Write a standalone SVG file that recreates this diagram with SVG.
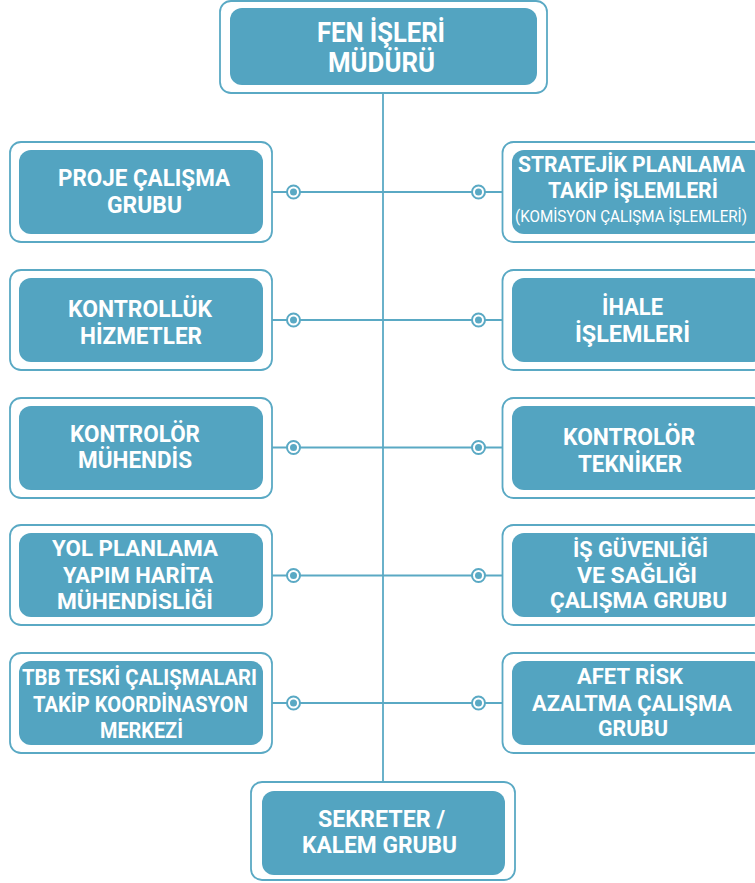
<svg xmlns="http://www.w3.org/2000/svg" width="755" height="883" viewBox="0 0 755 883">
<style>
.outer{fill:#ffffff;stroke:#5aa9c4;stroke-width:1.8}
.inner{fill:#53a4c1}
.ln{stroke:#5aa9c4;stroke-width:1.8;fill:none}
.dot{fill:#ffffff;stroke:#5aa9c4;stroke-width:2}
.dc{fill:#5aa9c4}
text{font-family:Roboto,"Liberation Sans",sans-serif;font-weight:700;fill:#ffffff;text-anchor:middle}
.t{font-size:27px}
.m{font-size:24.5px}
.s{font-size:22px}
.p{font-size:17px;font-weight:400}
</style>
<rect width="755" height="883" fill="#ffffff"/>
<g id="connectors">
<line class="ln" x1="383" y1="93" x2="383" y2="782"/>
<line class="ln" x1="272" y1="192" x2="502" y2="192"/>
<line class="ln" x1="272" y1="320" x2="502" y2="320"/>
<line class="ln" x1="272" y1="447.5" x2="502" y2="447.5"/>
<line class="ln" x1="272" y1="575.5" x2="502" y2="575.5"/>
<line class="ln" x1="272" y1="703" x2="502" y2="703"/>
<g id="dots">
<circle class="dot" cx="293.5" cy="192" r="6.5"/><circle class="dc" cx="293.5" cy="192" r="3.5"/>
<circle class="dot" cx="478.5" cy="192" r="6.5"/><circle class="dc" cx="478.5" cy="192" r="3.5"/>
<circle class="dot" cx="293.5" cy="320" r="6.5"/><circle class="dc" cx="293.5" cy="320" r="3.5"/>
<circle class="dot" cx="478.5" cy="320" r="6.5"/><circle class="dc" cx="478.5" cy="320" r="3.5"/>
<circle class="dot" cx="293.5" cy="447.5" r="6.5"/><circle class="dc" cx="293.5" cy="447.5" r="3.5"/>
<circle class="dot" cx="478.5" cy="447.5" r="6.5"/><circle class="dc" cx="478.5" cy="447.5" r="3.5"/>
<circle class="dot" cx="293.5" cy="575.5" r="6.5"/><circle class="dc" cx="293.5" cy="575.5" r="3.5"/>
<circle class="dot" cx="478.5" cy="575.5" r="6.5"/><circle class="dc" cx="478.5" cy="575.5" r="3.5"/>
<circle class="dot" cx="293.5" cy="703" r="6.5"/><circle class="dc" cx="293.5" cy="703" r="3.5"/>
<circle class="dot" cx="478.5" cy="703" r="6.5"/><circle class="dc" cx="478.5" cy="703" r="3.5"/>
</g>
</g>
<g id="top">
<rect class="outer" x="220" y="1" width="327" height="92" rx="11"/>
<rect class="inner" x="230" y="8" width="307" height="77" rx="12"/>
<text class="t" x="381" y="42" textLength="128" lengthAdjust="spacingAndGlyphs">FEN İŞLERİ</text>
<text class="t" x="381.5" y="72" textLength="107" lengthAdjust="spacingAndGlyphs">MÜDÜRÜ</text>
</g>
<g id="l1">
<rect class="outer" x="10" y="142" width="262" height="100" rx="11"/>
<rect class="inner" x="19" y="150" width="244" height="84" rx="12"/>
<text class="m" x="144" y="186" textLength="172" lengthAdjust="spacingAndGlyphs">PROJE ÇALIŞMA</text>
<text class="m" x="144.5" y="212.5" textLength="75" lengthAdjust="spacingAndGlyphs">GRUBU</text>
</g>
<g id="l2">
<rect class="outer" x="10" y="270" width="262" height="100" rx="11"/>
<rect class="inner" x="19" y="278" width="244" height="84" rx="12"/>
<text class="m" x="140" y="317" textLength="144" lengthAdjust="spacingAndGlyphs">KONTROLLÜK</text>
<text class="m" x="141" y="344" textLength="122" lengthAdjust="spacingAndGlyphs">HİZMETLER</text>
</g>
<g id="l3">
<rect class="outer" x="10" y="398" width="262" height="100" rx="11"/>
<rect class="inner" x="19" y="406" width="244" height="84" rx="12"/>
<text class="m" x="135" y="441.5" textLength="130" lengthAdjust="spacingAndGlyphs">KONTROLÖR</text>
<text class="m" x="135" y="468" textLength="114" lengthAdjust="spacingAndGlyphs">MÜHENDİS</text>
</g>
<g id="l4">
<rect class="outer" x="10" y="525" width="262" height="100" rx="11"/>
<rect class="inner" x="19" y="533" width="244" height="84" rx="12"/>
<text class="s" x="135" y="556" textLength="166" lengthAdjust="spacingAndGlyphs">YOL PLANLAMA</text>
<text class="s" x="138" y="583" textLength="150" lengthAdjust="spacingAndGlyphs">YAPIM HARİTA</text>
<text class="s" x="135" y="608.5" textLength="156" lengthAdjust="spacingAndGlyphs">MÜHENDİSLİĞİ</text>
</g>
<g id="l5">
<rect class="outer" x="10" y="653" width="262" height="100" rx="11"/>
<rect class="inner" x="19" y="661" width="244" height="84" rx="12"/>
<text class="s" x="139.5" y="685" textLength="235" lengthAdjust="spacingAndGlyphs">TBB TESKİ ÇALIŞMALARI</text>
<text class="s" x="140.5" y="712" textLength="215" lengthAdjust="spacingAndGlyphs">TAKİP KOORDİNASYON</text>
<text class="s" x="141.5" y="738" textLength="83" lengthAdjust="spacingAndGlyphs">MERKEZİ</text>
</g>
<g id="r1">
<rect class="outer" x="502.5" y="142" width="262" height="100" rx="11"/>
<rect class="inner" x="512" y="150" width="253" height="84" rx="12"/>
<text class="s" x="631.5" y="171.5" textLength="227" lengthAdjust="spacingAndGlyphs">STRATEJİK PLANLAMA</text>
<text class="s" x="633" y="198" textLength="170" lengthAdjust="spacingAndGlyphs">TAKİP İŞLEMLERİ</text>
<text class="p" x="631" y="222" textLength="232" lengthAdjust="spacingAndGlyphs">(KOMİSYON ÇALIŞMA İŞLEMLERİ)</text>
</g>
<g id="r2">
<rect class="outer" x="502.5" y="270" width="262" height="100" rx="11"/>
<rect class="inner" x="512" y="278" width="253" height="84" rx="12"/>
<text class="m" x="632.5" y="314.5" textLength="61" lengthAdjust="spacingAndGlyphs">İHALE</text>
<text class="m" x="632.5" y="342" textLength="115" lengthAdjust="spacingAndGlyphs">İŞLEMLERİ</text>
</g>
<g id="r3">
<rect class="outer" x="502.5" y="398" width="262" height="100" rx="11"/>
<rect class="inner" x="512" y="406" width="253" height="84" rx="12"/>
<text class="m" x="629" y="445" textLength="132" lengthAdjust="spacingAndGlyphs">KONTROLÖR</text>
<text class="m" x="630" y="471.5" textLength="104" lengthAdjust="spacingAndGlyphs">TEKNİKER</text>
</g>
<g id="r4">
<rect class="outer" x="502.5" y="525" width="262" height="100" rx="11"/>
<rect class="inner" x="512" y="533" width="253" height="84" rx="12"/>
<text class="s" x="640.5" y="556.5" textLength="135" lengthAdjust="spacingAndGlyphs">İŞ GÜVENLİĞİ</text>
<text class="s" x="637" y="583" textLength="120" lengthAdjust="spacingAndGlyphs">VE SAĞLIĞI</text>
<text class="s" x="638.5" y="608" textLength="177" lengthAdjust="spacingAndGlyphs">ÇALIŞMA GRUBU</text>
</g>
<g id="r5">
<rect class="outer" x="502.5" y="653" width="262" height="100" rx="11"/>
<rect class="inner" x="512" y="661" width="253" height="84" rx="12"/>
<text class="s" x="630" y="684" textLength="106" lengthAdjust="spacingAndGlyphs">AFET RİSK</text>
<text class="s" x="632" y="711" textLength="200" lengthAdjust="spacingAndGlyphs">AZALTMA ÇALIŞMA</text>
<text class="s" x="633" y="736" textLength="70" lengthAdjust="spacingAndGlyphs">GRUBU</text>
</g>
<g id="bottom">
<rect class="outer" x="251" y="782" width="264" height="98" rx="11"/>
<rect class="inner" x="262" y="791" width="243" height="84" rx="12"/>
<text class="m" x="381.5" y="826.5" textLength="127" lengthAdjust="spacingAndGlyphs">SEKRETER /</text>
<text class="m" x="379.5" y="853" textLength="155" lengthAdjust="spacingAndGlyphs">KALEM GRUBU</text>
</g>
</svg>
